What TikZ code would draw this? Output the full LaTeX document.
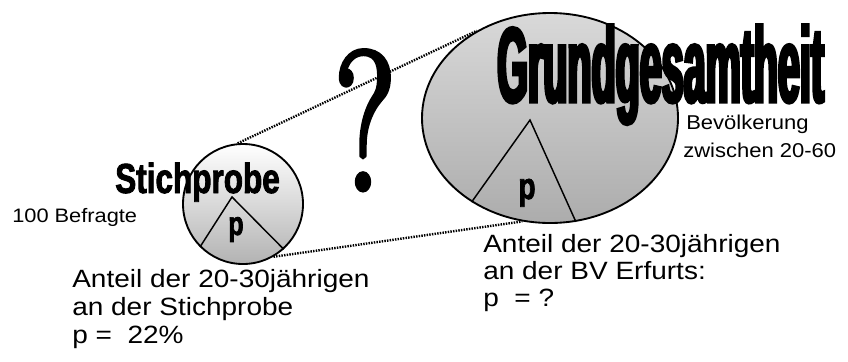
\documentclass[tikz,border=0pt]{standalone}
\usepackage{fontspec}
\setmainfont{Liberation Sans}
\newfontfamily\txtfont[FakeStretch=1.12]{Liberation Sans}
\newfontfamily\smfont[FakeStretch=1.1]{Liberation Sans}
\newfontfamily\gfont[FakeStretch=0.37,FakeBold=3]{Liberation Sans Bold}
\newfontfamily\sfontb[FakeStretch=0.75,FakeBold=2]{Liberation Sans Bold}
\newfontfamily\qfont[FakeStretch=0.7,FakeBold=2.5]{Latin Modern Roman}
\usetikzlibrary{shapes.geometric}
\begin{document}
\begin{tikzpicture}[x=0.75pt,y=-0.75pt,
  outline/.style={draw=black,line width=1.4pt,inner sep=0pt},
  dotline/.style={line width=1.8pt,dash pattern=on 1.1pt off 0.9pt},
  tri/.style={line width=1.1pt},
  lbl/.style={inner sep=0pt,anchor=base west},
  mainlbl/.style={lbl,font=\txtfont\fontsize{18.75pt}{18.75pt}\selectfont},
  smlbl/.style={lbl,font=\smfont\fontsize{15pt}{15pt}\selectfont}]
\fill[white,use as bounding box] (0,0) rectangle (848,361);
% circles
\node[circle,outline,minimum size=90pt,top color=white,bottom color=gray!60] (sc) at (243,204) {};
\node[ellipse,outline,minimum width=192pt,minimum height=157.5pt,top color=gray!30,bottom color=gray!65] (gc) at (550,118) {};
% triangles
\coordinate (sa) at (232,197);
\coordinate (ga) at (530,120);
\draw[tri] (sc.225) -- (sa) -- (sc.312);
\draw[tri] (gc.227) -- (ga) -- (gc.284);
% dotted connectors
\draw[dotline] (sc.95) -- (gc.130);
\draw[dotline] (sc.300) -- (gc.255);
% headings
\node[lbl] (stich) at (115,193) {\sfontb\fontsize{31.5pt}{31.5pt}\selectfont Stichprobe};
\node[lbl,text depth=0pt] (grund) at (497,102) {\gfont\fontsize{80pt}{80pt}\selectfont Grundgesamtheit};
\node[inner sep=0pt,anchor=base] (ps) at (236,235) {\sfontb\fontsize{25pt}{25pt}\selectfont p};
\node[inner sep=0pt,anchor=base] (pg) at (527,199) {\sfontb\fontsize{28pt}{28pt}\selectfont p};
\node[inner sep=0pt,anchor=base] (q) at (365,190) {\qfont\fontsize{149pt}{149pt}\selectfont ?};
% small labels
\node[lbl,font=\txtfont\fontsize{14.6pt}{14.6pt}\selectfont] (befr) at (12,222) {100 Befragte};
\node[smlbl] (bev) at (686,129) {Bevölkerung};
\node[smlbl] (zw) at (683,157) {zwischen 20-60};
% left block
\node[mainlbl] (l1) at (72,287) {Anteil der 20-30jährigen};
\node[mainlbl] (l2) at (72,315) {an der Stichprobe};
\node[mainlbl] (l3) at (72,343) {p =\ \ 22\%};
% right block
\node[mainlbl] (r1) at (483,252) {Anteil der 20-30jährigen};
\node[mainlbl] (r2) at (483,279) {an der BV Erfurts:};
\node[mainlbl] (r3) at (483,306) {p\ \ = ?};
\end{tikzpicture}
\end{document}
